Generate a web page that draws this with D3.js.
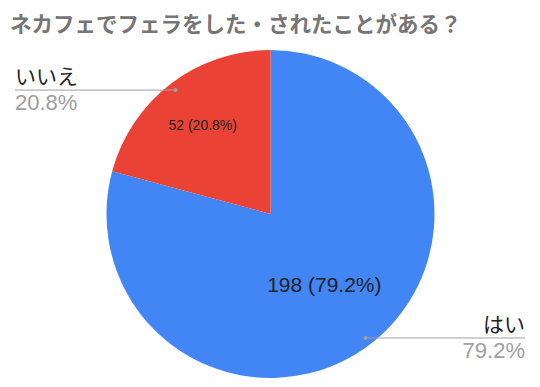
<!DOCTYPE html>
<html>
<head>
<meta charset="utf-8">
<script src="https://cdn.jsdelivr.net/npm/d3@7"></script>
<style>
  body { margin: 0; background: #fff; }
  text { font-family: "Liberation Sans", Arial, "Noto Sans CJK JP", sans-serif; }
</style>
</head>
<body>
<div id="root"></div>
<script>
const categories = ['はい', 'いいえ'];
const counts = [198, 52];
const colors = ['#4285f4', '#ea4335'];
const titleText = 'ネカフェでフェラをした・されたことがある？';

const width = 540;
const height = 387;
const cx = 270.5;
const cy = 214;
const radius = 164;

const svg = d3.select('#root').append('svg')
  .attr('width', width)
  .attr('height', height);

svg.append('text')
  .attr('x', 10)
  .attr('y', 32)
  .style('font-family', '"Noto Sans CJK JP", sans-serif')
  .style('font-weight', 'bold')
  .style('font-size', '21.5px')
  .style('fill', '#757575')
  .text(titleText);

const total = d3.sum(counts);
const data = categories.map((c, i) => ({ name: c, value: counts[i], color: colors[i] }));

const pie = d3.pie().sort(null).value(d => d.value);
const arcs = pie(data);
const arc = d3.arc().innerRadius(0).outerRadius(radius);

const g = svg.append('g').attr('transform', `translate(${cx},${cy})`);

g.selectAll('path')
  .data(arcs)
  .enter().append('path')
  .attr('d', arc)
  .style('fill', d => d.data.color);

const pct = v => (v / total * 100).toFixed(1) + '%';

// in-slice labels: radius fraction and size per slice
const innerR = [0.54, 0.68];
const innerSize = [21, 14];
g.selectAll('text.inside')
  .data(arcs)
  .enter().append('text')
  .attr('class', 'inside')
  .attr('transform', (d, i) => {
    const rr = innerR[i] * radius;
    const a = (d.startAngle + d.endAngle) / 2;
    return `translate(${Math.sin(a) * rr},${-Math.cos(a) * rr})`;
  })
  .attr('text-anchor', 'middle')
  .attr('dy', '0.35em')
  .style('font-size', (d, i) => innerSize[i] + 'px')
  .style('fill', '#222')
  .text(d => `${d.value} (${pct(d.value)})`);

// leader lines + outside labels
const anchorR = radius * 0.952;
arcs.forEach((d, i) => {
  const a = (d.startAngle + d.endAngle) / 2;
  const ax = cx + Math.sin(a) * anchorR;
  const ay = cy - Math.cos(a) * anchorR;
  const right = Math.sin(a) > 0;
  const endX = right ? 525 : 15;
  const lg = svg.append('g');
  lg.append('line')
    .attr('x1', ax).attr('y1', ay)
    .attr('x2', endX).attr('y2', ay)
    .style('stroke', '#9e9e9e')
    .style('stroke-width', 1);
  lg.append('circle')
    .attr('cx', ax).attr('cy', ay).attr('r', 2)
    .style('fill', '#9e9e9e');
  lg.append('text')
    .attr('x', endX).attr('y', ay - 6)
    .attr('text-anchor', right ? 'end' : 'start')
    .style('font-family', '"Noto Sans CJK JP", sans-serif')
    .style('font-size', '21px')
    .style('fill', '#222')
    .text(d.data.name);
  lg.append('text')
    .attr('x', endX).attr('y', ay + 20)
    .attr('text-anchor', right ? 'end' : 'start')
    .style('font-size', '22px')
    .style('fill', '#9e9e9e')
    .text(pct(d.value));
});
</script>
</body>
</html>
